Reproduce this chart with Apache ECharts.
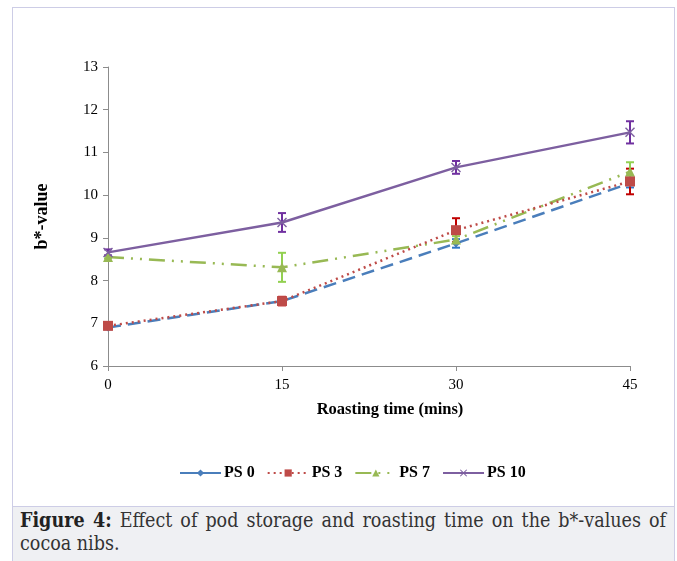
<!DOCTYPE html>
<html>
<head>
<meta charset="utf-8">
<script src="https://cdn.jsdelivr.net/npm/echarts@6/dist/echarts.min.js"></script>
<style>
  html, body { margin: 0; padding: 0; background: #fff; }
  #frame {
    position: absolute; left: 12px; top: 7px; width: 663px; height: 500px;
    box-sizing: border-box; border: 1px solid #cdcde6; border-bottom: none;
  }
  #chart { position: absolute; left: 0; top: 0; width: 677px; height: 505px; }
  #caption {
    position: absolute; left: 12px; top: 506px; width: 663px; height: 60px;
    box-sizing: border-box; background: #eff0f3;
    border: 1px solid #cdcde6; border-bottom: none;
    padding: 2px 8px 0 7px;
    font-family: "DejaVu Serif", serif; font-stretch: condensed;
    font-size: 19.5px; line-height: 23px; color: #333;
  }
  #caption .l1 { text-align: justify; text-align-last: justify; white-space: nowrap; }
  #caption b { color: #222; }
</style>
</head>
<body>
<div id="frame"></div>
<div id="chart"></div>
<div id="caption">
  <div class="l1"><b>Figure 4:</b> Effect of pod storage and roasting time on the b*-values of</div>
  <div>cocoa nibs.</div>
</div>
<script>
// roasting time (mins)
var times = [0, 15, 30, 45];
var yTicks = [6, 7, 8, 9, 10, 11, 12, 13];

// b*-values per pod storage
var ps0 = [6.90, 7.52, 8.87, 10.28];
var ps3 = [6.94, 7.52, 9.18, 10.32];
var ps7 = [8.55, 8.31, 8.96, 10.55];
var ps10 = [8.66, 9.36, 10.65, 11.47];

// error (+/-)
var ps0Err = [0.04, 0.06, 0.10, 0.10];
var ps3Err = [0.04, 0.10, 0.28, 0.30];
var ps7Err = [0.03, 0.34, 0.08, 0.22];
var ps10Err = [0.07, 0.22, 0.15, 0.26];

var serif = "Liberation Serif";

function pts(vals) {
  return times.map(function (t, i) { return [t, vals[i]]; });
}

function errSeries(vals, errs, color) {
  return {
    type: "custom",
    silent: true,
    z: 3,
    data: times.map(function (t, i) { return [t, vals[i], errs[i]]; }),
    renderItem: function (params, api) {
      var x = api.value(0), v = api.value(1), e = api.value(2);
      var top = api.coord([x, v + e]);
      var bot = api.coord([x, v - e]);
      var w = 4;
      var style = { stroke: color, lineWidth: 2 };
      return {
        type: "group",
        children: [
          { type: "line", shape: { x1: top[0], y1: top[1], x2: bot[0], y2: bot[1] }, style: style },
          { type: "line", shape: { x1: top[0] - w, y1: top[1], x2: top[0] + w, y2: top[1] }, style: style },
          { type: "line", shape: { x1: bot[0] - w, y1: bot[1], x2: bot[0] + w, y2: bot[1] }, style: style }
        ]
      };
    }
  };
}

var chart = echarts.init(document.getElementById("chart"));

var option = {
  animation: false,
  grid: { left: 108, right: 47, top: 67, bottom: 139 },
  legend: {
    data: [
      { name: "PS 0", lineStyle: { type: "solid" } },
      { name: "PS 3" },
      { name: "PS 7" },
      { name: "PS 10", lineStyle: { type: "solid" } }
    ],
    top: 460,
    left: 174,
    itemWidth: 41,
    itemHeight: 9,
    itemGap: 12,
    textStyle: { fontFamily: serif, fontWeight: "bold", fontSize: 16, color: "#000", padding: [0, 0, 0, -2] }
  },
  xAxis: {
    type: "value",
    min: 0,
    max: 45,
    interval: 15,
    name: "Roasting time (mins)",
    nameLocation: "middle",
    nameGap: 35,
    nameTextStyle: { fontFamily: serif, fontWeight: "bold", fontSize: 16.5, color: "#000", padding: [0, 0, 0, 42] },
    axisLine: { lineStyle: { color: "#8c8c8c", width: 1 } },
    axisTick: { show: true, length: 5, lineStyle: { color: "#8c8c8c" } },
    axisLabel: { fontFamily: serif, fontSize: 15, color: "#000", margin: 12 },
    splitLine: { show: false }
  },
  yAxis: {
    type: "value",
    min: yTicks[0],
    max: yTicks[yTicks.length - 1],
    interval: 1,
    name: "b*-value",
    nameLocation: "middle",
    nameGap: 57,
    nameTextStyle: { fontFamily: serif, fontWeight: "bold", fontSize: 18, color: "#000" },
    axisLine: { show: true, lineStyle: { color: "#8c8c8c", width: 1 } },
    axisTick: { show: true, length: 5, lineStyle: { color: "#8c8c8c" } },
    axisLabel: { fontFamily: serif, fontSize: 15, color: "#000", margin: 10 },
    splitLine: { show: false }
  },
  series: [
    {
      name: "PS 0", type: "line", data: pts(ps0), z: 4,
      symbol: "diamond", symbolSize: 8,
      itemStyle: { color: "#4a7ebb" },
      lineStyle: { color: "#4a7ebb", width: 2.5, type: [13, 7] }
    },
    {
      name: "PS 3", type: "line", data: pts(ps3), z: 5,
      symbol: "rect", symbolSize: 10,
      itemStyle: { color: "#be4b48" },
      lineStyle: { color: "#be4b48", width: 2.5, type: [2, 4] }
    },
    {
      name: "PS 7", type: "line", data: pts(ps7), z: 4,
      symbol: "triangle", symbolSize: 10,
      itemStyle: { color: "#98b954" },
      lineStyle: { color: "#98b954", width: 2.5, type: [16, 7, 2, 7, 2, 7] }
    },
    {
      name: "PS 10", type: "line", data: pts(ps10), z: 4,
      symbol: "path://M0,1L1,0L5,4L9,0L10,1L6,5L10,9L9,10L5,6L1,10L0,9L4,5Z", symbolSize: 10,
      itemStyle: { color: "#7d5fa0" },
      lineStyle: { color: "#7d5fa0", width: 2.5, type: "solid" }
    },
    errSeries(ps0, ps0Err, "#2e75c8"),
    errSeries(ps3, ps3Err, "#c00000"),
    errSeries(ps7, ps7Err, "#92d050"),
    errSeries(ps10, ps10Err, "#7030a0")
  ]
};

chart.setOption(option);
</script>
</body>
</html>
